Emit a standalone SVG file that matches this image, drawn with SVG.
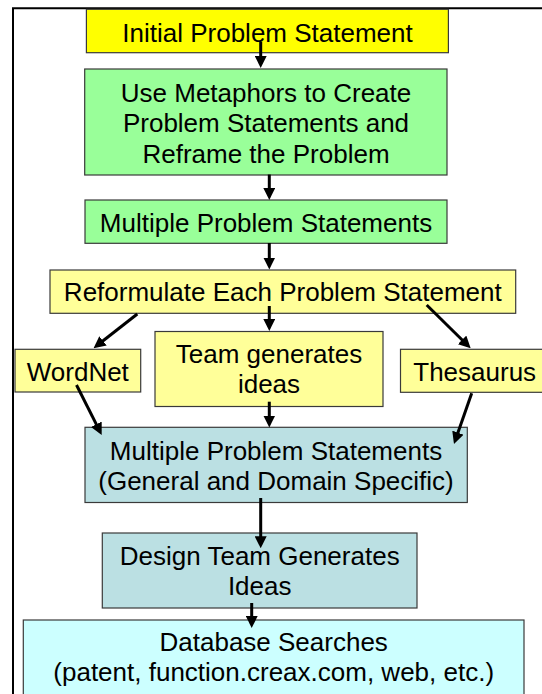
<svg xmlns="http://www.w3.org/2000/svg" width="542" height="694" viewBox="0 0 542 694">
<style>
.box{stroke:#3a3a3a;stroke-width:1.2}
.y1{fill:#FFFF00}
.g{fill:#99FF99}
.y2{fill:#FFFF99}
.t{fill:#BBE0E3}
.c{fill:#CCFFFF}
text{font-family:"Liberation Sans",Arial,sans-serif;font-size:26px;fill:#000;text-anchor:middle}
.arr{stroke:#000;stroke-width:3;fill:none;marker-end:url(#ah)}
.frame{stroke:#000;stroke-width:2;fill:none}
</style>
<defs>
<marker id="ah" markerUnits="userSpaceOnUse" markerWidth="12" markerHeight="12" refX="8" refY="6" orient="auto">
<path d="M0,0 L12,6 L0,12 z" fill="#000"/>
</marker>
</defs>
<rect width="542" height="694" fill="#fff"/>
<path class="frame" d="M13,694 V8.3 H542"/>
<g id="n1"><rect class="box y1" x="86.4" y="9.3" width="362" height="43.4"/><text x="267.5" y="41.5">Initial Problem Statement</text></g>
<g id="n2"><rect class="box g" x="84.7" y="69" width="362.3" height="106"/><text x="266" y="101.5">Use Metaphors to Create</text><text x="266" y="132">Problem Statements and</text><text x="266" y="162.5">Reframe the Problem</text></g>
<g id="n3"><rect class="box g" x="85" y="200" width="362" height="43.3"/><text x="266" y="231.5">Multiple Problem Statements</text></g>
<g id="n4"><rect class="box y2" x="50" y="270" width="465.7" height="43.3"/><text x="282.8" y="301.3">Reformulate Each Problem Statement</text></g>
<g id="n5"><rect class="box y2" x="15" y="349.3" width="125.7" height="42.7"/><text x="77.8" y="380.5">WordNet</text></g>
<g id="n6"><rect class="box y2" x="155" y="331.5" width="228" height="75"/><text x="269" y="362.7">Team generates</text><text x="269" y="393.3">ideas</text></g>
<g id="n7"><rect class="box y2" x="400.5" y="349.3" width="148.5" height="43"/><text x="474.7" y="380.6">Thesaurus</text></g>
<g id="n8"><rect class="box t" x="85" y="427.3" width="382.3" height="75.2"/><text x="276" y="459.5">Multiple Problem Statements</text><text x="276" y="489.8">(General and Domain Specific)</text></g>
<g id="n9"><rect class="box t" x="102.3" y="533" width="314.7" height="75"/><text x="259.7" y="564.9">Design Team Generates</text><text x="259.7" y="595">Ideas</text></g>
<g id="n10"><rect class="box c" x="23.3" y="620" width="500.7" height="80"/><text x="273.7" y="650.7">Database Searches</text><text x="273.7" y="680.5">(patent, function.creax.com, web, etc.)</text></g>
<g id="connectors">
<line class="arr" x1="260.7" y1="41.5" x2="260.7" y2="64"/>
<line class="arr" x1="269.3" y1="174.5" x2="269.3" y2="196"/>
<line class="arr" x1="269.3" y1="243" x2="269.3" y2="265.5"/>
<line class="arr" x1="269.3" y1="306" x2="269.3" y2="327"/>
<line class="arr" x1="137.3" y1="314" x2="96.7" y2="345.8"/>
<line class="arr" x1="426.7" y1="305" x2="467.8" y2="345.5"/>
<line class="arr" x1="76.5" y1="385" x2="99.9" y2="431.4"/>
<line class="arr" x1="269.3" y1="401.7" x2="269.3" y2="423.5"/>
<line class="arr" x1="471.7" y1="393.3" x2="455.3" y2="440.2"/>
<line class="arr" x1="260.7" y1="498" x2="260.7" y2="544.3"/>
<line class="arr" x1="251.7" y1="603" x2="251.7" y2="624"/>
</g>
</svg>
